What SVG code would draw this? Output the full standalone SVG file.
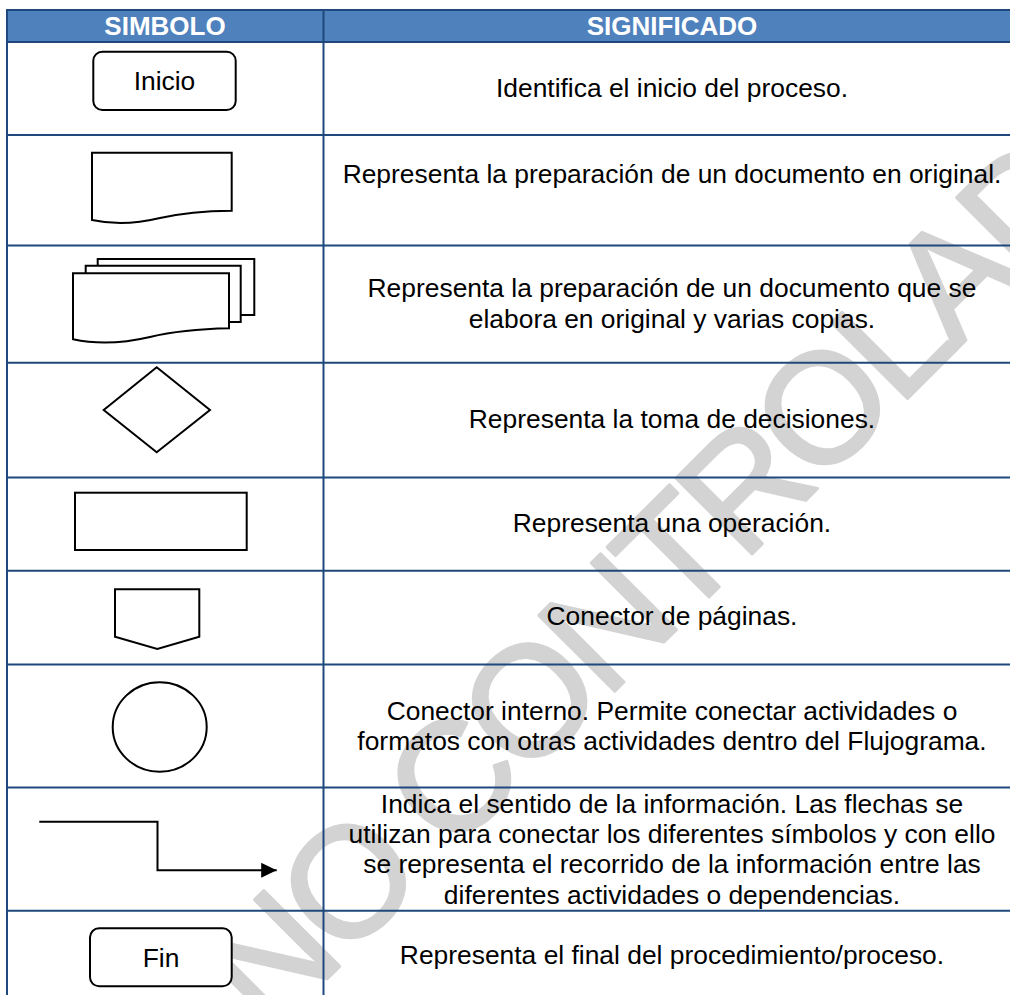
<svg xmlns="http://www.w3.org/2000/svg" width="1010" height="995" viewBox="0 0 1010 995">
<style>
.grid{stroke:#1F497D;stroke-width:2;fill:none}
.sym{stroke:#000;stroke-width:2;fill:#fff}
.t{font-family:"Liberation Sans",Arial,sans-serif;font-size:26.4px;fill:#000;text-anchor:middle}
.h{font-family:"Liberation Sans",Arial,sans-serif;font-size:26px;font-weight:bold;fill:#fff;text-anchor:middle}
.wm{font-family:"Liberation Sans",Arial,sans-serif;font-size:156px;letter-spacing:-7px;fill:#d3d3d3;stroke:#d3d3d3;stroke-width:3;stroke-linejoin:round}
</style>
<defs>
<marker id="ah" markerWidth="16" markerHeight="16" refX="15.5" refY="7.5" orient="auto" markerUnits="userSpaceOnUse">
<path d="M0,0 L15.5,7.5 L0,15 Z" fill="#000"/>
</marker>
</defs>
<rect x="0" y="0" width="1010" height="995" fill="#fff"/>
<text class="wm" transform="translate(269,1037) rotate(-45)">NO CONTROLADO</text>

<g id="header">
<rect x="7" y="10" width="1014" height="32" fill="#4F81BD"/>
<text class="h" x="165" y="35">SIMBOLO</text>
<text class="h" x="672" y="35">SIGNIFICADO</text>
</g>

<g id="table-grid" class="grid">
<line x1="7" y1="10" x2="1021" y2="10"/>
<line x1="7" y1="42" x2="1021" y2="42"/>
<line x1="7" y1="135" x2="1021" y2="135"/>
<line x1="7" y1="245.5" x2="1021" y2="245.5"/>
<line x1="7" y1="362.7" x2="1021" y2="362.7"/>
<line x1="7" y1="477.5" x2="1021" y2="477.5"/>
<line x1="7" y1="570.7" x2="1021" y2="570.7"/>
<line x1="7" y1="664.6" x2="1021" y2="664.6"/>
<line x1="7" y1="787.6" x2="1021" y2="787.6"/>
<line x1="7" y1="910.7" x2="1021" y2="910.7"/>
<line x1="7" y1="9" x2="7" y2="1000"/>
<line x1="323.5" y1="9" x2="323.5" y2="1000"/>
</g>

<g id="row-inicio">
<rect class="sym" x="93.3" y="51.7" width="142.4" height="58.3" rx="9"/>
<text class="t" x="164.5" y="90">Inicio</text>
<text class="t" x="672" y="97">Identifica el inicio del proceso.</text>
</g>

<g id="row-documento">
<path class="sym" d="M92,152.7 H231.7 V210.7 C200,211 182,213 160,218 C135,224 115,225 92,220 Z"/>
<text class="t" x="672" y="183">Representa la preparación de un documento en original.</text>
</g>

<g id="row-multidocumento">
<path class="sym" d="M97.7,259 H254.3 V315 H97.7 Z"/>
<path class="sym" d="M85.7,265.7 H240.7 V322 H85.7 Z"/>
<path class="sym" d="M73,273.3 H229 V328.3 C196,329 175,331 150,337 C120,344 95,344 73,339.3 Z"/>
<text class="t" x="672" y="297">Representa la preparación de un documento que se</text>
<text class="t" x="672" y="328">elabora en original y varias copias.</text>
</g>

<g id="row-decision">
<path class="sym" d="M156.7,367.3 L210,410 L156.7,452.3 L103.7,410 Z"/>
<text class="t" x="672" y="428">Representa la toma de decisiones.</text>
</g>

<g id="row-operacion">
<rect class="sym" x="75" y="492.7" width="171.7" height="57.3"/>
<text class="t" x="672" y="531.7">Representa una operación.</text>
</g>

<g id="row-conector-paginas">
<path class="sym" d="M115,589.3 H199.3 V636.7 L157.3,649 L115,636.7 Z"/>
<text class="t" x="672" y="625">Conector de páginas.</text>
</g>

<g id="row-conector-interno">
<ellipse class="sym" cx="159.7" cy="727" rx="47" ry="44.7"/>
<text class="t" x="672" y="720">Conector interno. Permite conectar actividades o</text>
<text class="t" x="672" y="750">formatos con otras actividades dentro del Flujograma.</text>
</g>

<g id="connectors">
<path d="M39.3,821.7 H157.5 V870.3 H276.7" fill="none" stroke="#000" stroke-width="2" marker-end="url(#ah)"/>
</g>

<g id="row-flecha">
<text class="t" x="672" y="813">Indica el sentido de la información. Las flechas se</text>
<text class="t" x="672" y="843">utilizan para conectar los diferentes símbolos y con ello</text>
<text class="t" x="672" y="873">se representa el recorrido de la información entre las</text>
<text class="t" x="672" y="904">diferentes actividades o dependencias.</text>
</g>

<g id="row-fin">
<rect class="sym" x="90" y="928.3" width="141.7" height="58" rx="9"/>
<text class="t" x="161" y="967">Fin</text>
<text class="t" x="672" y="964">Representa el final del procedimiento/proceso.</text>
</g>
</svg>
